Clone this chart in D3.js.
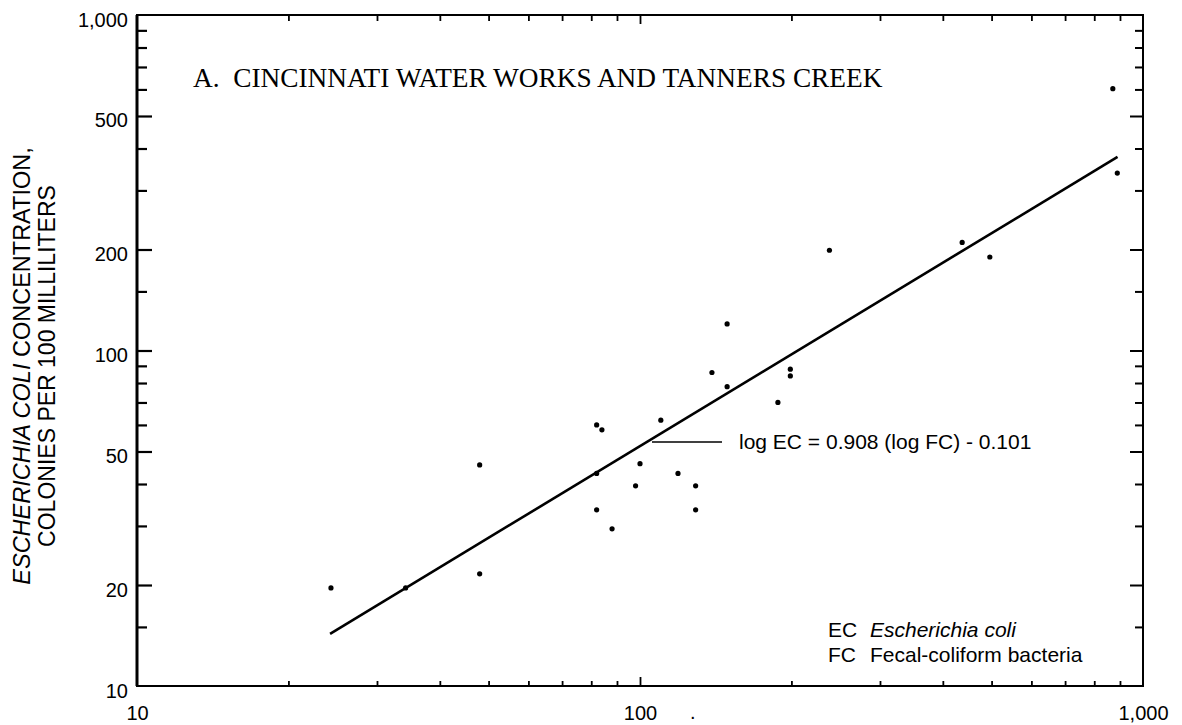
<!DOCTYPE html>
<html>
<head>
<meta charset="utf-8">
<script src="https://cdn.jsdelivr.net/npm/d3@7"></script>
<style>
  html, body { margin: 0; padding: 0; background: #fff; }
  svg { display: block; }
  text { fill: #000; }
</style>
</head>
<body>
<svg id="chart" width="1182" height="725"></svg>
<script>
// ---- Data ----
const fcValues = [149, 139, 199, 199, 149, 188, 110, 82, 84, 100, 82, 119, 98, 129, 82, 129, 88, 48, 48, 24.3, 34.2, 238, 437, 496, 871, 889];
const ecValues = [120, 86, 88, 84, 78, 70, 62, 60, 58, 46, 43, 43, 39.5, 39.5, 33.5, 33.5, 29.4, 45.6, 21.6, 19.6, 19.6, 199, 210, 190, 603, 338];

// regression: log EC = 0.908 (log FC) - 0.101, drawn over this FC range
const regSlope = 0.908;
const regIntercept = -0.101;
const regFcRange = [24.2, 890];

const xTickLabels = [10, 100, 1000];
const xMinorTicks = [20, 30, 40, 50, 60, 70, 80, 90, 200, 300, 400, 500, 600, 700, 800, 900];
const xMajorTicks = [100];
const yTickLabels = [10, 20, 50, 100, 200, 500, 1000];
const yMajorTicks = [20, 50, 100, 200, 500];
const yMinorTicks = [15, 30, 40, 60, 70, 80, 90, 150, 300, 400, 600, 700, 800, 900];

const titleText = "A.  CINCINNATI WATER WORKS AND TANNERS CREEK";
const equationText = "log EC = 0.908 (log FC) - 0.101";
const legendCodes = ["EC", "FC"];
const legendNames = ["Escherichia coli", "Fecal-coliform bacteria"];
const legendItalic = [true, false];

// ---- Layout ----
const L = 137, R = 1143, T = 15, B = 686;
const sans = "'Liberation Sans', Arial, Helvetica, sans-serif";
const serif = "'Liberation Serif', 'Times New Roman', Times, serif";

const svg = d3.select("#chart");
const x = d3.scaleLog().domain([10, 1000]).range([L, R]);
const y = d3.scaleLog().domain([10, 1000]).range([B, T]);
const fmt = d3.format(",");

function styleTicks(g, w) {
  g.select(".domain").remove();
  g.selectAll(".tick line").attr("stroke", "#000").attr("stroke-width", w);
}

// left ticks (inward)
svg.append("g").attr("transform", `translate(${L},0)`)
  .call(d3.axisLeft(y).tickValues(yMajorTicks).tickSize(-15).tickFormat(""))
  .call(g => styleTicks(g, 2.2));
svg.append("g").attr("transform", `translate(${L},0)`)
  .call(d3.axisLeft(y).tickValues(yMinorTicks).tickSize(-10).tickFormat(""))
  .call(g => styleTicks(g, 2.2));
// right ticks (inward)
svg.append("g").attr("transform", `translate(${R},0)`)
  .call(d3.axisRight(y).tickValues(yMajorTicks).tickSize(-13).tickFormat(""))
  .call(g => styleTicks(g, 2));
svg.append("g").attr("transform", `translate(${R},0)`)
  .call(d3.axisRight(y).tickValues(yMinorTicks).tickSize(-8).tickFormat(""))
  .call(g => styleTicks(g, 2));
// bottom ticks (inward)
svg.append("g").attr("transform", `translate(0,${B})`)
  .call(d3.axisBottom(x).tickValues(xMinorTicks).tickSize(-5).tickFormat(""))
  .call(g => styleTicks(g, 1.8));
svg.append("g").attr("transform", `translate(0,${B})`)
  .call(d3.axisBottom(x).tickValues(xMajorTicks).tickSize(-9).tickFormat(""))
  .call(g => styleTicks(g, 1.8));
// top ticks (inward)
svg.append("g").attr("transform", `translate(0,${T})`)
  .call(d3.axisTop(x).tickValues(xMinorTicks).tickSize(-6).tickFormat(""))
  .call(g => styleTicks(g, 1.8));
svg.append("g").attr("transform", `translate(0,${T})`)
  .call(d3.axisTop(x).tickValues(xMajorTicks).tickSize(-9).tickFormat(""))
  .call(g => styleTicks(g, 1.8));

// frame
svg.append("rect").attr("x", L).attr("y", T).attr("width", R - L).attr("height", B - T)
  .attr("fill", "none").attr("stroke", "#000").attr("stroke-width", 2);
svg.append("line").attr("x1", L).attr("x2", L).attr("y1", T).attr("y2", B)
  .attr("stroke", "#000").attr("stroke-width", 3);

// tick labels
const yl = svg.append("g").attr("transform", `translate(${L},0)`)
  .call(d3.axisLeft(y).tickValues(yTickLabels).tickSize(0).tickPadding(9).tickFormat(fmt));
yl.select(".domain").remove();
yl.selectAll("text").attr("font-family", sans).attr("font-size", 20).attr("fill", "#000").attr("dy", "0.55em");

const xl = svg.append("g").attr("transform", `translate(0,${B})`)
  .call(d3.axisBottom(x).tickValues(xTickLabels).tickSize(0).tickPadding(20).tickFormat(fmt));
xl.select(".domain").remove();
xl.selectAll("text").attr("font-family", sans).attr("font-size", 20).attr("fill", "#000");

// stray dot under the axis, as in the reference
svg.append("text").attr("x", 690).attr("y", 719).attr("font-family", sans).attr("font-size", 20).text(".");

// regression line
const reg = regFcRange.map(f => [f, Math.pow(10, regSlope * Math.log10(f) + regIntercept)]);
svg.append("path").datum(reg)
  .attr("d", d3.line().x(d => x(d[0])).y(d => y(d[1])))
  .attr("fill", "none").attr("stroke", "#000").attr("stroke-width", 2.6);

// points
svg.append("g").selectAll("circle").data(fcValues.map((f, i) => [f, ecValues[i]]))
  .join("circle")
  .attr("cx", d => x(d[0])).attr("cy", d => y(d[1])).attr("r", 2.6).attr("fill", "#000");

// title
svg.append("text").attr("x", 193).attr("y", 87)
  .attr("font-family", serif).attr("font-size", 27.3)
  .style("white-space", "pre").text(titleText);

// equation with leader
svg.append("line").attr("x1", 652).attr("x2", 722).attr("y1", 442).attr("y2", 442)
  .attr("stroke", "#000").attr("stroke-width", 1.6);
svg.append("text").attr("x", 739).attr("y", 449)
  .attr("font-family", sans).attr("font-size", 21).text(equationText);

// legend
legendCodes.forEach((c, i) => {
  const yy = 637 + i * 25;
  svg.append("text").attr("x", 828).attr("y", yy).attr("font-family", sans).attr("font-size", 21).text(c);
  svg.append("text").attr("x", 870).attr("y", yy).attr("font-family", sans).attr("font-size", 21)
    .attr("font-style", legendItalic[i] ? "italic" : "normal").text(legendNames[i]);
});

// y axis title
const yt = svg.append("text").attr("transform", "translate(30,366) rotate(-90)")
  .attr("text-anchor", "middle").attr("font-family", sans).attr("font-size", 23.5);
yt.append("tspan").attr("font-style", "italic").text("ESCHERICHIA COLI");
yt.append("tspan").text(" CONCENTRATION,");
svg.append("text").attr("transform", "translate(55,366) rotate(-90)")
  .attr("text-anchor", "middle").attr("font-family", sans).attr("font-size", 23)
  .text("COLONIES PER 100 MILLILITERS");
</script>
</body>
</html>
